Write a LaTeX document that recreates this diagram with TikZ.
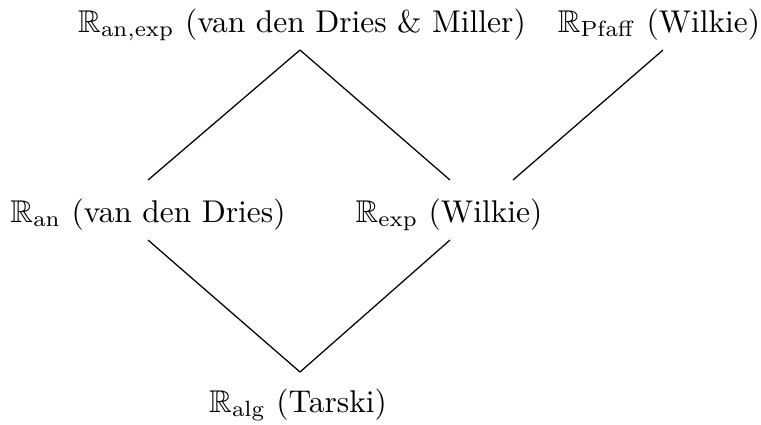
\documentclass[tikz,border=0pt]{standalone}
\usepackage{amssymb}
\begin{document}
\begin{tikzpicture}[x=0.318pt,y=-0.318pt,
  lbl/.style={anchor=base,inner sep=0pt,font=\normalsize},
  link/.style={draw=black,line width=0.4pt}]
\useasboundingbox (0,0) rectangle (761,424);
\node[lbl] (anexp) at (302,32) {$\mathbb{R}_{\mathrm{an,exp}}$ (van den Dries \& Miller)};
\node[lbl] (pfaff) at (659,32) {$\mathbb{R}_{\mathrm{Pfaff}}$ (Wilkie)};
\node[lbl] (an) at (148,222) {$\mathbb{R}_{\mathrm{an}}$ (van den Dries)};
\node[lbl] (exp) at (449,222) {$\mathbb{R}_{\mathrm{exp}}$ (Wilkie)};
\node[lbl] (alg) at (298,412) {$\mathbb{R}_{\mathrm{alg}}$ (Tarski)};
\coordinate (anexpS) at (300,50);
\coordinate (pfaffS) at (663,50);
\coordinate (anN) at (148,180);
\coordinate (expNL) at (450,180);
\coordinate (expNR) at (513,180);
\coordinate (anS) at (148,240);
\coordinate (expS) at (450,240);
\coordinate (algN) at (300,372);
\draw[link] (anexpS) -- (anN);
\draw[link] (anexpS) -- (expNL);
\draw[link] (pfaffS) -- (expNR);
\draw[link] (anS) -- (algN);
\draw[link] (expS) -- (algN);
\end{tikzpicture}
\end{document}
